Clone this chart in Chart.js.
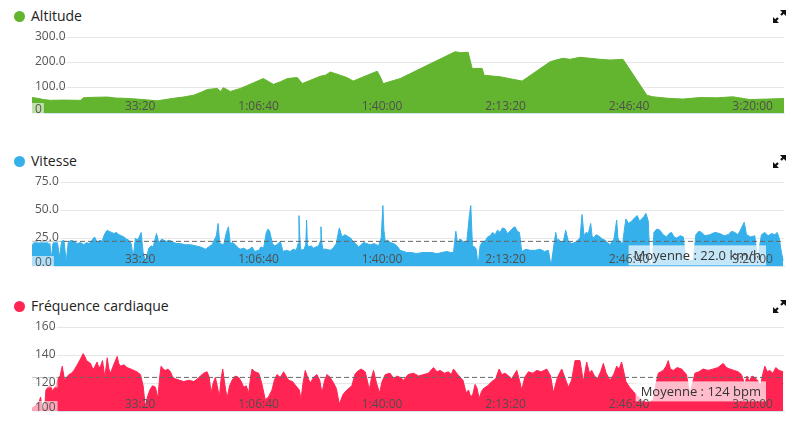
<!DOCTYPE html>
<html>
<head>
<meta charset="utf-8">
<script src="https://cdn.jsdelivr.net/npm/chart.js@4.4.1/dist/chart.umd.min.js"></script>
<style>
  body { margin: 0; background: #fff; font-family: "Open Sans", sans-serif; }
  .page { position: relative; width: 800px; height: 433px; overflow: hidden; }
  .title { position: absolute; left: 31px; font-size: 14px; line-height: 20px; color: #222; white-space: nowrap; }
  .dot { position: absolute; left: 14px; width: 11px; height: 11px; border-radius: 50%; }
  .expand { position: absolute; left: 773px; }
  canvas { position: absolute; left: 0; }
</style>
</head>
<body>
<div class="page">
  <span class="dot" style="top:11px;background:#63b52f"></span>
  <div class="title" style="top:6px">Altitude</div>
  <svg class="expand" style="top:10px" width="13" height="13" viewBox="0 0 13 13"><path d="M13 0L13 6L7 0Z M0 13L0 7L6 13Z" fill="#111"/><path d="M12 1L8 5 M1 12L5 8" stroke="#111" stroke-width="2.2"/></svg>
  <canvas id="altChart" width="800" height="90" style="top:27px"></canvas>

  <span class="dot" style="top:156px;background:#36b0ea"></span>
  <div class="title" style="top:151px">Vitesse</div>
  <svg class="expand" style="top:155px" width="13" height="13" viewBox="0 0 13 13"><path d="M13 0L13 6L7 0Z M0 13L0 7L6 13Z" fill="#111"/><path d="M12 1L8 5 M1 12L5 8" stroke="#111" stroke-width="2.2"/></svg>
  <canvas id="speedChart" width="800" height="98" style="top:172px"></canvas>

  <span class="dot" style="top:301px;background:#ff2452"></span>
  <div class="title" style="top:296px">Fréquence cardiaque</div>
  <svg class="expand" style="top:300px" width="13" height="13" viewBox="0 0 13 13"><path d="M13 0L13 6L7 0Z M0 13L0 7L6 13Z" fill="#111"/><path d="M12 1L8 5 M1 12L5 8" stroke="#111" stroke-width="2.2"/></svg>
  <canvas id="hrChart" width="800" height="98" style="top:317px"></canvas>
</div>
<script>
// Ride duration on the x axis, in seconds
const rideEnd = 12180;
const timeTicks = [2000, 4000, 6000, 8000, 10000, 12000];

// Altitude (m) as [seconds, metres]
const altSamples = [[0,61],[90,58],[188,53],[301,50],[500,51],[786,50],[835,60],[1000,62],[1223,63],[1353,59],[1500,58],[1644,56],[1850,52],[2032,48],[2291,58],[2450,63],[2615,70],[2740,82],[2841,93],[3003,97],[3052,85],[3100,100],[3213,85],[3375,97],[3480,108],[3586,119],[3747,136],[3909,113],[4022,123],[4136,136],[4297,140],[4378,116],[4508,129],[4669,145],[4760,150],[4831,162],[4993,149],[5100,140],[5203,126],[5430,149],[5592,165],[5641,143],[5689,116],[5964,136],[6400,188],[6854,242],[6950,238],[7064,240],[7129,176],[7291,176],[7323,149],[7582,143],[7938,126],[8391,202],[8500,210],[8601,216],[8714,212],[8876,220],[9038,216],[9200,212],[9362,209],[9572,212],[9960,70],[10057,64],[10300,58],[10542,55],[10817,61],[11100,60],[11351,64],[11627,53],[11900,55],[12180,57]];

// Vitesse (km/h) as [seconds, km/h]
const speedSamples = [[0,18],[31,21],[80,23],[110,20],[139,22],[190,21],[247,22],[270,19],[290,20],[312,6],[339,20],[370,23],[409,22],[447,8],[479,22],[517,23],[554,4],[587,21],[630,23],[678,22],[730,20],[786,21],[840,19],[880,21],[921,20],[960,22],[1013,26],[1056,21],[1100,23],[1137,22],[1165,27],[1191,30],[1220,32],[1245,31],[1290,30],[1326,29],[1365,30],[1407,28],[1450,27],[1488,26],[1530,24],[1568,23],[1606,20],[1638,8],[1676,25],[1700,23],[1730,25],[1768,30],[1800,12],[1838,4],[1865,10],[1892,16],[1930,18],[1962,17],[2016,29],[2054,21],[2100,24],[2135,23],[2175,22],[2215,23],[2260,22],[2296,21],[2350,20],[2404,20],[2480,19],[2566,19],[2650,18],[2728,17],[2770,16],[2809,15],[2860,17],[2916,19],[2987,27],[3014,38],[3041,20],[3105,19],[3148,30],[3181,35],[3213,20],[3250,21],[3294,19],[3340,16],[3375,15],[3430,16],[3483,14],[3520,15],[3564,17],[3610,13],[3672,14],[3710,17],[3752,16],[3795,30],[3825,33],[3850,31],[3893,20],[3930,18],[3968,19],[4022,22],[4065,13],[4120,14],[4184,13],[4230,15],[4281,14],[4310,20],[4324,45],[4340,22],[4356,14],[4410,15],[4435,20],[4448,41],[4460,20],[4475,17],[4520,18],[4561,16],[4600,17],[4642,18],[4668,22],[4680,35],[4695,20],[4712,15],[4770,15],[4831,14],[4880,16],[4928,20],[4955,28],[4977,34],[5000,30],[5020,26],[5070,28],[5128,26],[5160,25],[5198,22],[5240,20],[5289,17],[5330,19],[5370,21],[5420,20],[5478,19],[5540,20],[5613,18],[5656,25],[5683,54],[5700,32],[5721,22],[5760,23],[5802,21],[5860,20],[5910,18],
  [5964,14],[6020,13],[6072,12],[6150,12],[6234,11],[6310,12],[6395,12],[6480,12],[6557,11],[6640,12],[6719,13],[6780,12],[6827,12],[6865,31],[6892,20],[6930,24],[6962,23],[7000,21],[7043,22],[7086,46],[7107,54],[7134,18],[7170,17],[7194,15],[7226,0],[7258,18],[7300,22],[7339,22],[7380,26],[7420,27],[7460,30],[7501,28],[7540,32],[7582,30],[7620,34],[7663,33],[7700,29],[7744,31],[7790,34],[7825,35],[7860,31],[7895,30],[7932,13],[8000,15],[8067,14],[8150,14],[8229,15],[8300,13],[8364,14],[8407,0],[8456,20],[8483,30],[8510,22],[8526,24],[8570,21],[8607,22],[8644,32],[8687,22],[8740,20],[8795,21],[8840,23],[8876,25],[8909,46],[8941,27],[8975,30],[9011,29],[9049,38],[9070,27],[9092,25],[9140,28],[9200,26],[9240,24],[9281,23],[9320,21],[9362,19],[9400,22],[9426,24],[9470,41],[9490,25],[9513,22],[9567,20],[9600,35],[9620,42],[9660,38],[9712,40],[9760,43],[9804,45],[9840,40],[9874,42],[9910,44],[9944,47],[9982,40],[10009,3],[10047,0],[10073,30],[10120,33],[10170,32],[10220,28],[10278,26],[10320,29],[10359,30],[10400,26],[10440,25],[10500,27],[10548,26],[10591,5],[10710,5],[10753,28],[10800,31],[10845,30],[10900,27],[10979,28],[11060,30],[11141,29],[11210,27],[11276,28],[11330,31],[11384,30],[11430,28],[11465,31],[11535,39],[11573,28],[11640,26],[11707,27],[11751,6],[11815,28],[11870,30],[11923,27],[11980,29],[12031,28],[12070,30],[12101,25],[12139,12],[12166,5]];
const speedAverage = 22.0;

// Fréquence cardiaque (bpm) as [seconds, bpm]
const hrSamples = [[0,102],[60,104],[112,106],[139,110],[166,101],[204,101],[225,115],[260,117],[301,119],[330,114],[355,116],[390,118],[420,123],[455,125],[490,132],[527,122],[560,124],[598,126],[640,127],[678,129],[720,132],[759,135],[795,138],[829,141],[855,139],[883,136],[915,135],[948,134],[975,131],[1002,130],[1030,133],[1056,135],[1080,131],[1110,132],[1142,136],[1180,124],[1218,138],[1245,130],[1272,127],[1305,131],[1342,135],[1380,139],[1405,134],[1433,132],[1490,133],[1541,131],[1600,130],[1649,129],[1700,128],[1757,126],[1800,118],[1838,102],[1870,110],[1908,115],[1950,118],[2000,117],[2038,109],[2070,125],[2091,132],[2125,130],[2162,129],[2200,130],[2243,128],[2280,124],[2323,123],[2390,122],[2458,121],[2540,122],[2620,121],[2680,123],[2728,125],[2780,127],[2836,128],[2870,124],[2900,113],[2935,120],[2970,124],[3000,118],[3035,110],[3060,122],[3089,130],[3120,120],[3159,109],[3200,118],[3240,122],[3290,125],[3348,124],[3390,121],[3429,117],[3470,118],[3510,113],[3540,124],[3564,130],[3610,128],[3672,127],[3720,120],[3779,108],[3830,110],[3887,115],[3925,122],[3968,126],[4020,124],[4076,128],[4115,125],[4157,122],[4220,121],[4292,117],[4330,115],[4356,108],[4390,120],[4426,129],[4465,124],[4507,120],[4560,124],[4615,126],[4660,122],[4696,113],[4740,122],[4777,126],[4830,124],[4885,120],[4930,116],[4977,105],[5040,112],[5101,115],[5180,118],[5230,126],[5263,128],[5330,130],[5397,128],[5430,122],[5462,115],[5500,124],[5532,129],[5580,120],[5629,113],[5670,121],[5721,126],[5800,127],[5860,123],[5910,125],
  [5964,124],[6018,122],[6090,126],[6180,127],[6260,125],[6342,126],[6420,127],[6503,131],[6560,128],[6611,129],[6680,127],[6746,128],[6790,126],[6827,130],[6880,127],[6935,124],[6980,122],[7032,113],[7070,115],[7107,110],[7140,112],[7177,119],[7210,116],[7242,109],[7280,114],[7312,116],[7380,118],[7447,121],[7510,123],[7566,130],[7610,126],[7663,127],[7720,125],[7771,123],[7810,126],[7852,129],[7895,122],[7932,115],[7980,124],[8040,128],[8110,127],[8175,129],[8250,128],[8337,130],[8400,125],[8445,113],[8510,124],[8580,130],[8630,124],[8687,117],[8740,122],[8795,136],[8876,136],[8930,121],[8984,135],[9030,127],[9065,129],[9110,125],[9157,123],[9210,128],[9254,134],[9300,127],[9362,122],[9420,126],[9470,132],[9510,130],[9550,135],[9620,121],[9680,117],[9739,114],[9820,110],[9901,107],[9980,106],[10063,108],[10100,118],[10144,127],[10224,129],[10270,132],[10305,136],[10340,130],[10386,129],[10450,131],[10521,130],[10602,126],[10630,118],[10656,112],[10700,120],[10737,127],[10800,128],[10872,130],[10950,129],[11033,130],[11110,131],[11195,134],[11250,131],[11303,130],[11370,129],[11438,128],[11490,126],[11546,119],[11580,125],[11616,121],[11660,125],[11707,124],[11750,122],[11799,118],[11830,125],[11869,132],[11910,128],[11950,129],[12000,127],[12047,131],[12100,129],[12166,128]];
const hrAverage = 124;

function toPoints(samples) {
  return samples.map(s => ({ x: s[0], y: s[1] }));
}

function formatTime(s) {
  const h = Math.floor(s / 3600);
  const m = Math.floor((s % 3600) / 60);
  const ss = String(Math.round(s % 60)).padStart(2, '0');
  if (h) return h + ':' + String(m).padStart(2, '0') + ':' + ss;
  return m + ':' + ss;
}

// y tick labels inside the plot, on a light backdrop
const yLabelPlugin = {
  id: 'yLabels',
  afterDatasetsDraw(chart, args, opts) {
    const scale = chart.scales.y;
    const ctx = chart.ctx;
    const left = chart.chartArea.left;
    ctx.save();
    ctx.font = '12px "Open Sans"';
    ctx.textAlign = 'left';
    ctx.textBaseline = 'alphabetic';
    scale.ticks.forEach((tick, i) => {
      const label = opts.format(tick.value);
      const y = scale.getPixelForValue(tick.value);
      const base = i === 0 ? y : y + 2.5;
      const w = ctx.measureText(label).width;
      ctx.fillStyle = 'rgba(255,255,255,0.6)';
      ctx.fillRect(left, base - 10, w + 5, 12);
      ctx.fillStyle = '#555';
      ctx.fillText(label, left + 3, base);
    });
    ctx.restore();
  }
};

// "Moyenne" box just under the average line
const averageBoxPlugin = {
  id: 'averageBox',
  afterDatasetsDraw(chart, args, opts) {
    if (!opts.text) return;
    const ctx = chart.ctx;
    const y = chart.scales.y.getPixelForValue(opts.value);
    ctx.save();
    ctx.font = '13px "Open Sans"';
    const w = ctx.measureText(opts.text).width + 10;
    const right = chart.chartArea.right - 18;
    ctx.fillStyle = 'rgba(255,255,255,0.7)';
    ctx.fillRect(right - w, y + 4, w, 20);
    ctx.fillStyle = '#333';
    ctx.textAlign = 'center';
    ctx.textBaseline = 'middle';
    ctx.fillText(opts.text, right - w / 2, y + 14.5);
    ctx.restore();
  }
};

// time labels drawn inside the plot, right-aligned on each tick
const xLabelPlugin = {
  id: 'xLabels',
  afterDatasetsDraw(chart) {
    const scale = chart.scales.x;
    const ctx = chart.ctx;
    const bottom = chart.chartArea.bottom;
    ctx.save();
    ctx.font = '12px "Open Sans"';
    ctx.fillStyle = '#4f4f4f';
    ctx.textAlign = 'right';
    ctx.textBaseline = 'alphabetic';
    timeTicks.forEach(v => {
      ctx.fillText(formatTime(v), scale.getPixelForValue(v), bottom - 3);
    });
    ctx.restore();
  }
};

function makeChart(id, cfg) {
  const datasets = [];
  if (cfg.average !== undefined) {
    datasets.push({
      data: [{ x: 0, y: cfg.average }, { x: rideEnd, y: cfg.average }],
      borderColor: '#666',
      borderWidth: 1,
      borderDash: [5, 3],
      pointRadius: 0,
      fill: false
    });
  }
  datasets.push({
    data: cfg.points,
    borderColor: cfg.color,
    backgroundColor: cfg.color,
    borderWidth: 1,
    pointRadius: 0,
    tension: 0,
    fill: 'start'
  });

  return new Chart(document.getElementById(id), {
    type: 'line',
    data: { datasets: datasets },
    options: {
      responsive: false,
      animation: false,
      layout: { padding: { left: 32, right: 16, top: 10, bottom: 4 } },
      plugins: {
        legend: { display: false },
        tooltip: { enabled: false },
        yLabels: { format: cfg.yFormat },
        averageBox: { text: cfg.averageText, value: cfg.average }
      },
      scales: {
        x: {
          type: 'linear',
          min: 0,
          max: rideEnd,
          grid: { display: false, drawTicks: false },
          border: { color: '#d6e4ee' },
          ticks: { stepSize: 2000, display: false }
        },
        y: {
          min: cfg.yMin,
          max: cfg.yMax,
          grid: { color: '#e6e6e6', drawTicks: false },
          border: { display: false },
          ticks: { stepSize: cfg.yStep, display: false }
        }
      }
    },
    plugins: [yLabelPlugin, averageBoxPlugin, xLabelPlugin]
  });
}

makeChart('altChart', {
  points: toPoints(altSamples),
  color: '#63b52f',
  yMin: 0, yMax: 300, yStep: 100,
  yFormat: v => v === 0 ? '0' : v.toFixed(1)
});

makeChart('speedChart', {
  points: toPoints(speedSamples),
  color: '#36b0ea',
  yMin: 0, yMax: 75, yStep: 25,
  yFormat: v => v.toFixed(1),
  average: speedAverage,
  averageText: 'Moyenne : ' + speedAverage.toFixed(1) + ' km/h'
});

makeChart('hrChart', {
  points: toPoints(hrSamples),
  color: '#ff2452',
  yMin: 100, yMax: 160, yStep: 20,
  yFormat: v => String(v),
  average: hrAverage,
  averageText: 'Moyenne : ' + hrAverage + ' bpm'
});
</script>
</body>
</html>
